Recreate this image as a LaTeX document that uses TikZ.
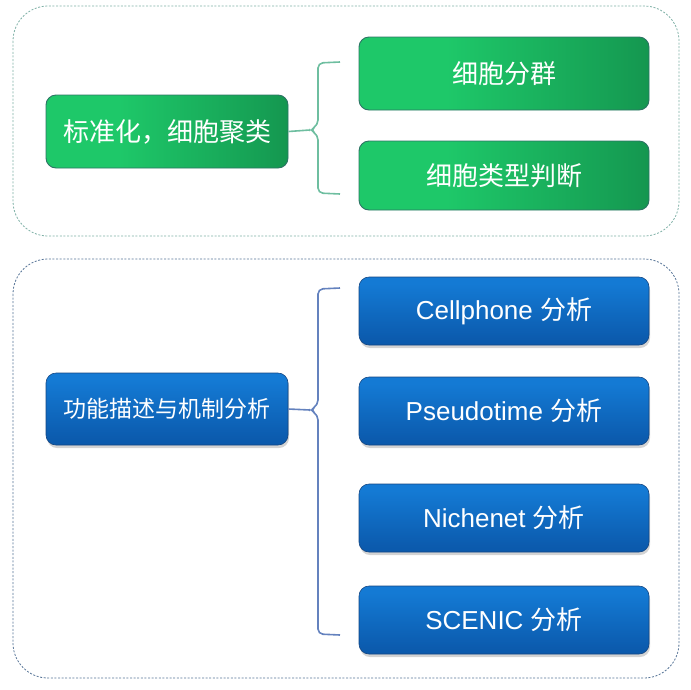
\documentclass[tikz,border=0pt]{standalone}
\usepackage{fontspec}
\setmainfont{Liberation Sans}
\newfontfamily\cjk{Noto Sans CJK SC}
\usetikzlibrary{shadows}
\definecolor{gA}{RGB}{30,200,105}
\definecolor{gB}{RGB}{12,108,58}
\definecolor{gEdge}{RGB}{45,115,100}
\definecolor{bA}{RGB}{20,122,212}
\definecolor{bB}{RGB}{8,78,158}
\definecolor{bEdge}{RGB}{20,70,130}
\definecolor{gDash}{RGB}{125,175,165}
\definecolor{bDash}{RGB}{85,115,150}
\definecolor{gBrk}{RGB}{110,190,160}
\definecolor{bBrk}{RGB}{100,130,190}
\pgfdeclarehorizontalshading{greensh}{100bp}{color(0bp)=(gA); color(40bp)=(gA); color(70bp)=(gA!55!gB); color(100bp)=(gB)}
\pgfdeclareverticalshading{bluesh}{100bp}{color(0bp)=(bB); color(30bp)=(bB!70!bA); color(70bp)=(bA); color(100bp)=(bA)}
\tikzset{
  gbox/.style={rounded corners=10pt, shading=greensh, draw=gEdge, line width=0.9pt,
    text=white, font=\cjk\fontsize{26}{30}\selectfont, inner sep=0pt},
  bbox/.style={rounded corners=10pt, shading=bluesh, draw=bEdge, line width=0.6pt,
    text=white, font=\fontsize{26}{30}\selectfont, inner sep=0pt,
    drop shadow={opacity=0.35, shadow xshift=1pt, shadow yshift=-3pt}},
  container/.style={rounded corners=35pt, dashed, dash pattern=on 2pt off 1.6pt, line width=0.8pt},
  brk/.style={line width=1.6pt, rounded corners=5pt}
}
\begin{document}
\begin{tikzpicture}[x=1pt,y=-1pt]
\useasboundingbox (0,0) rectangle (691,689);
% containers
\draw[container, draw=gDash] (13,6) rectangle (679,236);
\draw[container, draw=bDash] (13,259) rectangle (679,678);
% green part
\node[gbox, minimum width=242pt, minimum height=73pt] (g0) at (167,131.5) {标准化，细胞聚类};
\node[gbox, minimum width=290pt, minimum height=73pt] (g1) at (504,73.5) {细胞分群};
\node[gbox, minimum width=290pt, minimum height=69pt] (g2) at (504,175.5) {细胞类型判断};
\coordinate (gt1) at (340,62);
\coordinate (gt2) at (340,194);
\coordinate (gtip) at (310,130);
\draw[brk, draw=gBrk] (gt1) -- (318,63) -- (318,125) -- (gtip) -- (318,135) -- (318,193) -- (gt2);
\draw[line width=1.6pt, draw=gBrk] (g0.east) -- (gtip);
% blue part
\node[bbox, font=\cjk\fontsize{23}{27}\selectfont, minimum width=242pt, minimum height=72pt] (b0) at (167,409) {功能描述与机制分析};
\node[bbox, minimum width=290pt, minimum height=68pt] (b1) at (504,311) {Cellphone {\cjk 分析}};
\node[bbox, minimum width=290pt, minimum height=68pt] (b2) at (504,411) {Pseudotime {\cjk 分析}};
\node[bbox, minimum width=290pt, minimum height=68pt] (b3) at (504,518) {Nichenet {\cjk 分析}};
\node[bbox, minimum width=290pt, minimum height=68pt] (b4) at (504,620) {SCENIC {\cjk 分析}};
\coordinate (bt1) at (340,288);
\coordinate (bt2) at (340,635);
\coordinate (btip) at (310,410);
\draw[brk, draw=bBrk] (bt1) -- (318,289) -- (318,405) -- (btip) -- (318,415) -- (318,634) -- (bt2);
\draw[line width=1.6pt, draw=bBrk] (b0.east) -- (btip);
\end{tikzpicture}
\end{document}
